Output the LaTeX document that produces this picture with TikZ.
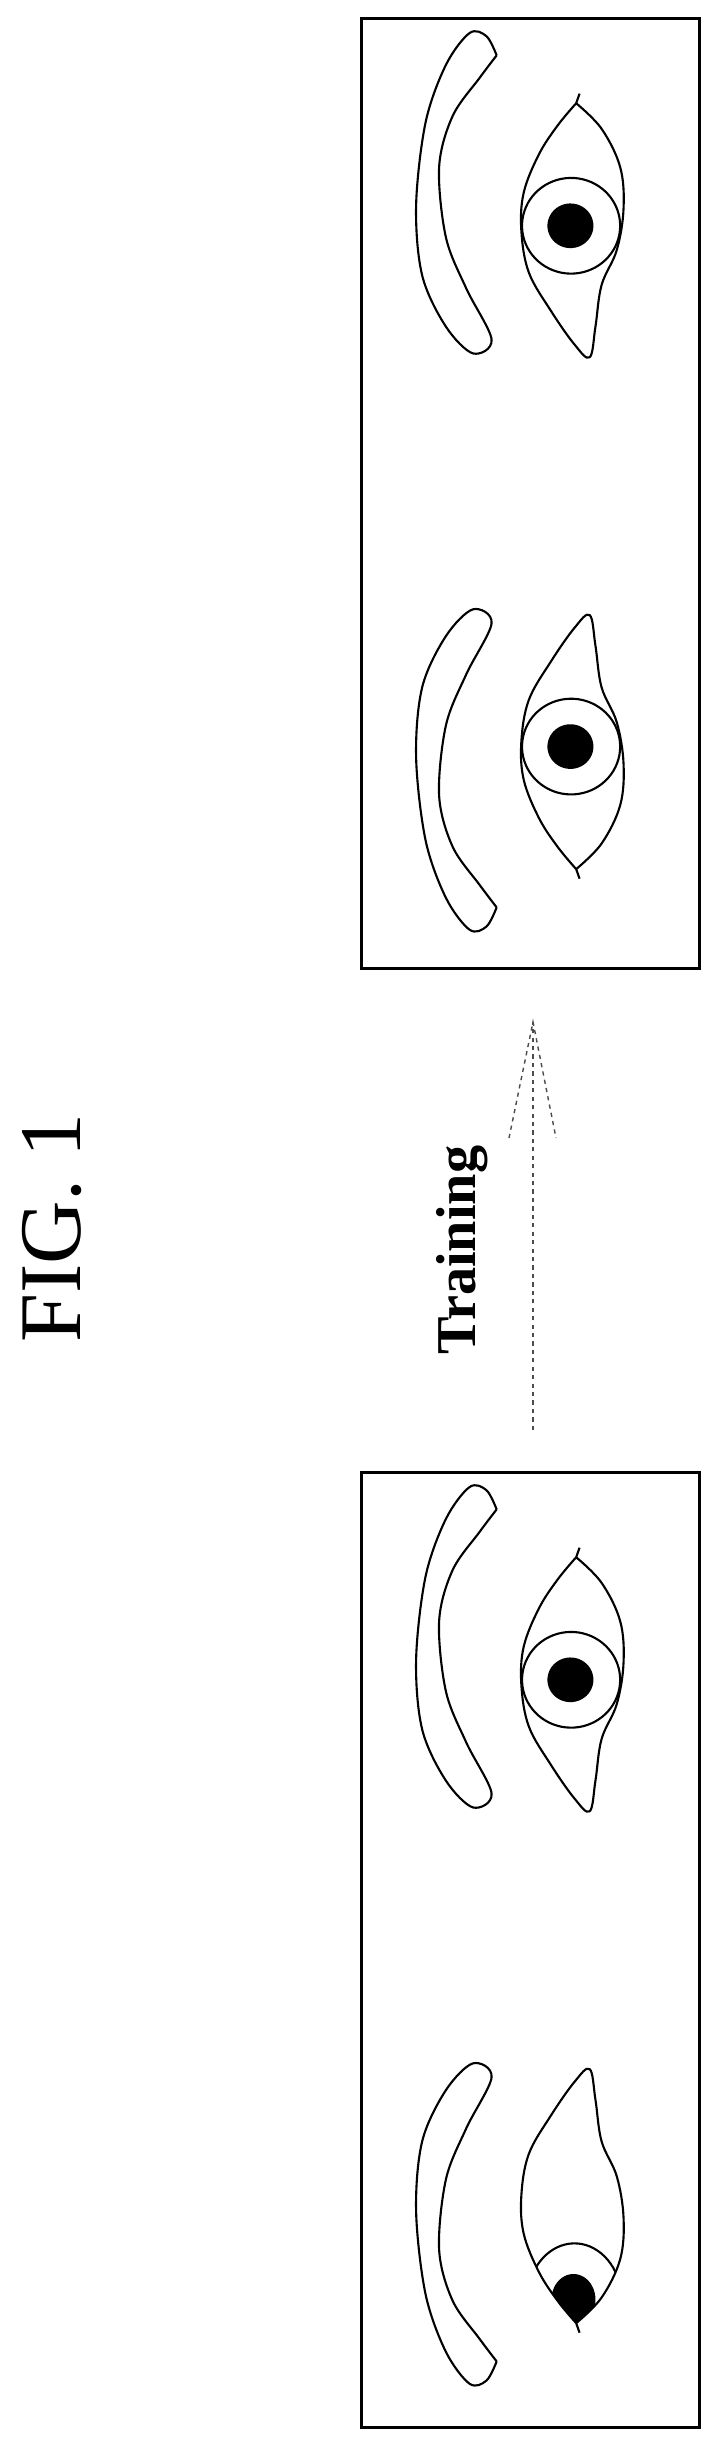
\documentclass[tikz,border=0pt]{standalone}
\usepackage{fontspec}
\setmainfont{Liberation Serif}
\begin{document}
\begin{tikzpicture}[x=0.01cm,y=-0.01cm,
  frame/.style={draw,line width=0.85pt,minimum width=3.37cm,minimum height=9.5cm,inner sep=0pt},
  ln/.style={line width=0.6pt,line join=round},
  arr/.style={line width=0.4pt,dash pattern=on 1.2pt off 1.2pt,gray!60!black}]
\useasboundingbox (0,0) rectangle (718,2461);
\def\browpath{plot[smooth,tension=0.55] coordinates {(470,95)(440,65)(390,60)(320,110)(260,200)(232,330)(250,440)(320,520)(400,562)(455,540)(380,460)(320,380)(300,270)(340,190)(420,130)(470,95)}}
\def\lidpath{(715,155)--(705,170) plot[smooth,tension=0.6] coordinates {(705,170)(780,210)(835,270)(845,335)(825,400)(780,455)(762,520)(745,568)(700,548)(630,495)(565,435)(543,370)(550,310)(595,250)(650,205)(705,170)}}
\def\lidclip{plot[smooth,tension=0.6] coordinates {(705,170)(780,210)(835,270)(845,335)(825,400)(780,455)(762,520)(745,568)(700,548)(630,495)(565,435)(543,370)(550,310)(595,250)(650,205)(705,170)}}
\newcommand\irisA{\draw[ln] plot[domain=0:360,samples=72] ({690+145*cos(\x)},{362+75*sin(\x)});
  \fill plot[domain=0:360,samples=48] ({688+68*cos(\x)},{362+35*sin(\x)}) -- cycle;}
% boxes
\node[frame] (box1) at (530.5,493.5) {};
\node[frame,minimum height=9.54cm] (box2) at (530.5,1950) {};
% upper box: eye A
\begin{scope}[shift={(337.6,-5.25)},xscale=0.3384,yscale=0.6382]
 \draw[ln] \browpath; \draw[ln] \lidpath; \irisA
\end{scope}
\begin{scope}[shift={(337.6,968.0)},xscale=0.3384,yscale=-0.6382]
 \draw[ln] \browpath;
\end{scope}
\begin{scope}[shift={(337.6,977.6)},xscale=0.3384,yscale=-0.6382]
 \draw[ln] \lidpath; \irisA
\end{scope}
% lower box
\begin{scope}[shift={(337.6,1448.75)},xscale=0.3384,yscale=0.6382]
 \draw[ln] \browpath; \draw[ln] \lidpath; \irisA
\end{scope}
\begin{scope}[shift={(337.6,2422.0)},xscale=0.3384,yscale=-0.6382]
 \draw[ln] \browpath;
\end{scope}
\begin{scope}[shift={(337.6,2431.6)},xscale=0.3384,yscale=-0.6382]
 \draw[ln] \lidpath;
 \begin{scope}
  \clip \lidclip;
  \draw[ln] plot[domain=0:360,samples=72] ({700+140*cos(\x)},{205+90*sin(\x)});
  \fill plot[domain=0:360,samples=48] ({697+65*cos(\x)},{207+40*sin(\x)}) -- cycle;
 \end{scope}
\end{scope}
% arrow
\coordinate (as) at (533,1430);
\coordinate (at) at (533,1022);
\coordinate (al) at (509,1138);
\coordinate (ar) at (556,1138);
\draw[arr] (as) -- (at);
\draw[arr] (al) -- (at) -- (ar);
\node[rotate=90,font=\fontsize{16}{19}\selectfont\bfseries] (train) at (462,1250) {Training};
\node[rotate=90,font=\fontsize{25}{30}\selectfont] (fig) at (52,1228) {FIG. 1};
\end{tikzpicture}
\end{document}
